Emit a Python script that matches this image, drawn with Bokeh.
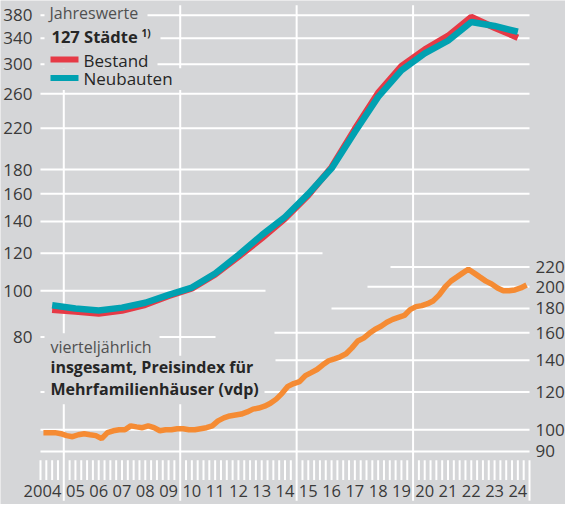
import math
from bokeh.plotting import figure
from bokeh.models import Range1d, LogScale
from bokeh.core.properties import value
from bokeh.embed import file_html
from bokeh.resources import INLINE

# ---------------- data ----------------
years = list(range(2004, 2025))
bestand = [91.3, 90.5, 89.6, 90.9, 93.5, 97.6, 101.2, 108.3, 118.0, 129.0,
           142.0, 159.0, 182.0, 219.0, 261.0, 297.0, 322.0, 344.0, 377.0, 358.0, 341.0]
neubauten = [93.3, 91.8, 90.9, 92.2, 94.4, 98.1, 101.6, 108.8, 119.0, 131.0,
             143.0, 160.0, 181.0, 216.0, 256.0, 291.0, 316.0, 336.0, 368.0, 361.0, 351.0]

quarters = [y + 0.125 + 0.25 * q for y in range(2004, 2025) for q in range(4)]
vdp_index = [
    98.6, 98.6, 98.6, 98.1,
    97.2, 96.7, 97.6, 98.1,
    97.6, 97.2, 95.8, 98.6,
    99.5, 100.0, 100.0, 101.9,
    101.4, 101.0, 101.9, 101.0,
    99.5, 100.0, 100.0, 100.5,
    100.5, 100.0, 100.0, 100.5,
    101.0, 101.9, 104.4, 105.9,
    106.9, 107.4, 107.9, 109.0,
    110.5, 111.1, 112.1, 113.7,
    116.0, 119.3, 123.4, 125.1,
    126.3, 130.0, 131.9, 133.9,
    137.0, 139.7, 141.0, 142.4,
    144.5, 148.7, 153.7, 155.9,
    159.6, 162.8, 165.1, 168.3,
    170.7, 172.4, 174.0, 179.0,
    181.6, 182.5, 184.2, 186.9,
    192.3, 199.7, 205.5, 209.5,
    213.6, 217.7, 213.6, 209.5,
    205.5, 202.6, 198.8, 196.1,
    196.1, 196.9, 198.8, 201.7,
]

left_ticks = [80, 100, 120, 140, 160, 180, 220, 260, 300, 340, 380]
right_ticks = [90, 100, 120, 140, 160, 180, 200, 220]
year_labels = ["2004", "05", "06", "07", "08", "09", "10", "11", "12", "13", "14",
               "15", "16", "17", "18", "19", "20", "21", "22", "23", "24"]

# ---------------- layout / style ----------------
GREY = "#d5d6d8"
RED = "#e63a46"
TEAL = "#00a1b1"
ORANGE = "#f58b33"
DARK = "#262626"
AXC = "#3a3a3a"
MID = "#505050"
FONT = "Open Sans"
W, H = 565, 504

# horizontal: page px of 2004 and px per year
X0, PXY = 48.0, 489.0 / 21.0
# vertical (reference-pixel scale): left 100 at y=302, 209.5 px per ln-unit,
# right axis offset by 141 px; reference pixels are compressed into the figure
Y100, PXL, RSHIFT = 302.0, 209.5, 141.0
S, YA, YREF = 0.985, 12.0, 19.4


def yr(px):
    return 2004 + (px - X0) / PXY


def lv(py):
    return 100 * math.exp((Y100 - py) / PXL)


def rv(py):
    return 100 * math.exp((Y100 + RSHIFT - py) / PXL)


ref_top = YREF - YA / S
ref_bot = YREF + (H - YA) / S

p = figure(width=W, height=H, x_range=Range1d(yr(8), yr(8 + W)),
           y_range=Range1d(lv(ref_bot), lv(ref_top)), y_axis_type="log",
           x_axis_location=None, y_axis_location=None, output_backend="svg",
           toolbar_location=None, min_border=0, background_fill_color=GREY,
           border_fill_color=GREY, outline_line_color=None)
p.extra_y_ranges = {"r": Range1d(rv(ref_bot), rv(ref_top))}
p.extra_y_scales = {"r": LogScale()}
p.grid.visible = False

# ---- gridlines ----
GW = 2
left_ext = {380: (2004, 2025), 340: (2004, 2025), 300: (2004, 2025),
            260: (2004, 2025), 220: (2004, 2025), 180: (2004, 2025),
            160: (2004, 2025), 140: (2004, 2025), 120: (2004, yr(330)),
            100: (2004, yr(273)), 80: (2004, yr(223))}
right_ext = {220: (yr(398), 2025), 200: (yr(375), 2025), 180: (yr(339), 2025),
             160: (yr(282), 2025), 140: (yr(283), 2025), 120: (2004, 2025),
             100: (2004, 2025), 90: (2004, 2025)}
lk = list(left_ext.keys())
p.segment(x0=[left_ext[v][0] for v in lk], x1=[left_ext[v][1] for v in lk],
          y0=lk, y1=lk, line_color="white", line_width=GW)
rk = list(right_ext.keys())
p.segment(x0=[right_ext[v][0] for v in rk], x1=[right_ext[v][1] for v in rk],
          y0=rk, y1=rk, line_color="white", line_width=GW, y_range_name="r")

vx = [2005, 2010, 2015, 2020]
p.segment(x0=vx, x1=vx, y0=[lv(515)] * 4, y1=[lv(12)] * 4,
          line_color="white", line_width=GW)
p.segment(x0=[2025], x1=[2025], y0=[lv(515)], y1=[lv(474)],
          line_color="white", line_width=GW)
qt = [2004 + 0.25 * i for i in range(85) if i not in (4, 24, 44, 64, 84)]
p.segment(x0=qt, x1=qt, y0=[lv(494)] * len(qt), y1=[lv(474)] * len(qt),
          line_color="white", line_width=GW)

# ---- masks behind text blocks ----
boxes = [(52, 155, 12, 33), (52, 168, 33, 55), (52, 165, 55, 76), (52, 191, 76, 98),
         (52, 167, 345, 368), (52, 272, 368, 417)]
p.quad(left=[yr(b[0]) for b in boxes], right=[yr(b[1]) for b in boxes],
       top=[lv(b[2]) for b in boxes], bottom=[lv(b[3]) for b in boxes],
       fill_color=GREY, line_color=None)

# ---- data lines ----
p.line([y + 0.5 for y in years], bestand, line_color=RED, line_width=6.5)
p.line([y + 0.5 for y in years], neubauten, line_color=TEAL, line_width=6.5)
p.line(quarters, vdp_index, line_color=ORANGE, line_width=5.5, y_range_name="r")

# ---- legend swatches ----
p.segment(x0=[yr(58)], x1=[yr(86)], y0=[lv(67.2)], y1=[lv(67.2)],
          line_color=RED, line_width=6)
p.segment(x0=[yr(58)], x1=[yr(86)], y0=[lv(85.8)], y1=[lv(85.8)],
          line_color=TEAL, line_width=6)

# ---- axis tick labels ----
p.text(x=[yr(40)] * len(left_ticks), y=left_ticks, text=[str(v) for v in left_ticks],
       text_font=value(FONT), text_font_size="17px", text_color=AXC,
       text_align="right", text_baseline="middle")
p.text(x=[yr(543)] * len(right_ticks), y=right_ticks, text=[str(v) for v in right_ticks],
       text_font=value(FONT), text_font_size="17px", text_color=AXC,
       text_align="left", text_baseline="middle", y_range_name="r")


# ---- texts ----
def txt(x, y, s, size, color, style="normal", align="left"):
    p.text(x=[yr(x)], y=[lv(y)], text=[s], text_font=value(FONT),
           text_font_size=size, text_color=color, text_font_style=style,
           text_align=align, text_baseline="middle")


txt(57, 19.6, "Jahreswerte", "16px", MID)
txt(59, 44.2, "127 Städte", "16.5px", DARK, "bold")
txt(149, 40.5, "1)", "10px", DARK, "bold")
txt(91, 68.4, "Bestand", "17px", DARK)
txt(91, 86.8, "Neubauten", "17px", DARK)
txt(58, 359.5, "vierteljährlich", "16px", MID)
txt(58, 379.6, "insgesamt, Preisindex für", "16px", DARK, "bold")
txt(58, 401.3, "Mehrfamilienhäuser (vdp)", "16px", DARK, "bold")

p.text(x=[y + 0.5 for y in years], y=[lv(505)] * len(years), text=year_labels,
       x_offset=[-9.7] + [0] * (len(years) - 1),
       text_font=value(FONT), text_font_size="16.5px", text_color=AXC,
       text_align="center", text_baseline="middle")

html = file_html(p, INLINE)
html = html.replace("<body>", '<body style="background-color:%s;">' % GREY, 1)
open("out.html", "w").write(html)
